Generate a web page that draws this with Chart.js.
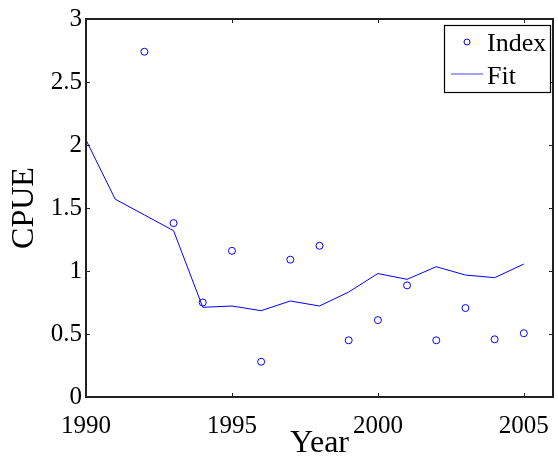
<!DOCTYPE html>
<html lang="en">
<head>
  <meta charset="UTF-8" />
  <title>CPUE index and fit</title>
  <script src="https://cdn.jsdelivr.net/npm/chart.js"></script>
  <style>
    html, body { margin: 0; padding: 0; background: #fff; }
    #wrap { width: 558px; height: 460px; }
  </style>
</head>
<body>
  <div id="wrap"><canvas id="cpueChart" width="558" height="460"></canvas></div>

  <script>
    // data
    const indexYears = [1992, 1993, 1994, 1995, 1996, 1997, 1998, 1999, 2000, 2001, 2002, 2003, 2004, 2005];
    const indexValues = [2.74, 1.38, 0.75, 1.16, 0.28, 1.09, 1.20, 0.45, 0.61, 0.886, 0.45, 0.706, 0.458, 0.506];
    const fitYears = [1990, 1991, 1992, 1993, 1994, 1995, 1996, 1997, 1998, 1999, 2000, 2001, 2002, 2003, 2004, 2005];
    const fitValues = [2.04, 1.57, 1.445, 1.32, 0.712, 0.722, 0.685, 0.762, 0.722, 0.833, 0.98, 0.934, 1.034, 0.968, 0.947, 1.055];
    const xTicks = [1990, 1995, 2000, 2005];
    const yTicks = [0, 0.5, 1, 1.5, 2, 2.5, 3];

    const serif = "'Liberation Serif', 'Times New Roman', serif";
    const blue = '#0000ff';

    // box around plot + inward ticks on all four sides, plus the legend
    const boxPlugin = {
      id: 'box',
      afterDraw(chart) {
        const { ctx, chartArea: a, scales } = chart;
        ctx.save();
        ctx.strokeStyle = '#222';
        ctx.lineWidth = 1;
        const len = 4;
        ctx.beginPath();
        xTicks.forEach(v => {
          const x = Math.round(scales.x.getPixelForValue(v)) + 0.5;
          ctx.moveTo(x, a.bottom); ctx.lineTo(x, a.bottom - len);
          ctx.moveTo(x, a.top); ctx.lineTo(x, a.top + len);
        });
        yTicks.forEach(v => {
          const y = Math.round(scales.y.getPixelForValue(v)) + 0.5;
          ctx.moveTo(a.left, y); ctx.lineTo(a.left + len, y);
          ctx.moveTo(a.right, y); ctx.lineTo(a.right - len, y);
        });
        ctx.stroke();
        ctx.lineWidth = 2;
        ctx.strokeRect(a.left, a.top, a.right - a.left, a.bottom - a.top);

        // legend box, top right
        const lx = 444, ly = 25, lw = 106, lh = 67;
        ctx.fillStyle = '#fff';
        ctx.fillRect(lx, ly, lw, lh);
        ctx.lineWidth = 1.2;
        ctx.strokeStyle = '#000';
        ctx.strokeRect(lx + 0.5, ly + 0.5, lw, lh);
        ctx.strokeStyle = blue;
        ctx.lineWidth = 1;
        ctx.beginPath();
        ctx.arc(467, 42, 3, 0, Math.PI * 2);
        ctx.stroke();
        ctx.strokeStyle = '#6666ff';
        ctx.lineWidth = 1.2;
        ctx.beginPath();
        ctx.moveTo(451, 74); ctx.lineTo(483, 74);
        ctx.stroke();
        ctx.fillStyle = '#000';
        ctx.font = '26px ' + serif;
        ctx.textBaseline = 'middle';
        ctx.fillText('Index', 487, 44);
        ctx.fillText('Fit', 487, 77);
        ctx.restore();
      }
    };

    const ctx = document.getElementById('cpueChart').getContext('2d');
    new Chart(ctx, {
      type: 'scatter',
      data: {
        datasets: [
          {
            label: 'Index',
            data: indexYears.map((yr, i) => ({ x: yr, y: indexValues[i] })),
            showLine: false,
            pointRadius: 3.5,
            pointBorderWidth: 1,
            borderColor: blue,
            backgroundColor: 'rgba(0,0,0,0)'
          },
          {
            label: 'Fit',
            data: fitYears.map((yr, i) => ({ x: yr, y: fitValues[i] })),
            showLine: true,
            pointRadius: 0,
            borderWidth: 1,
            borderColor: blue,
            backgroundColor: blue
          }
        ]
      },
      options: {
        responsive: false,
        animation: false,
        layout: { padding: { top: 19, right: 3, left: 0, bottom: 0 } },
        scales: {
          x: {
            type: 'linear',
            min: 1990,
            max: 2006,
            afterBuildTicks: s => { s.ticks = xTicks.map(v => ({ value: v })); },
            afterFit: s => { s.height = 63; },
            grid: { display: false, tickLength: 12 },
            border: { display: false },
            ticks: {
              color: '#000',
              padding: 2,
              maxRotation: 0,
              font: { family: serif, size: 25 },
              callback: v => String(v)
            },
            title: {
              display: true,
              text: 'Year',
              color: '#000',
              padding: { top: 0, bottom: -3 },
              font: { family: serif, size: 32 }
            }
          },
          y: {
            min: 0,
            max: 3,
            afterBuildTicks: s => { s.ticks = yTicks.map(v => ({ value: v })); },
            afterFit: s => { s.width = 86; },
            grid: { display: false, drawTicks: false },
            border: { display: false },
            ticks: {
              color: '#000',
              padding: 4,
              font: { family: serif, size: 25 },
              callback: v => String(v)
            },
            title: {
              display: true,
              text: 'CPUE',
              color: '#000',
              padding: { top: 5, bottom: 0 },
              font: { family: serif, size: 32 }
            }
          }
        },
        plugins: {
          legend: { display: false },
          tooltip: { enabled: false }
        }
      },
      plugins: [boxPlugin]
    });
  </script>
</body>
</html>
